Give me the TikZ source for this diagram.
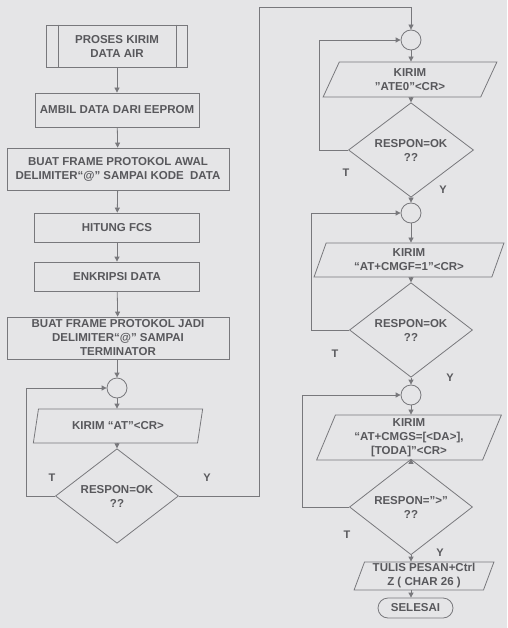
\documentclass[tikz,border=0pt]{standalone}
\usepackage{fontspec}
\setmainfont{Liberation Sans}
\usetikzlibrary{shapes.geometric,arrows.meta}
\definecolor{bg}{RGB}{229,229,231}
\definecolor{ln}{RGB}{120,120,124}
\definecolor{tx}{RGB}{88,88,92}
\begin{document}
\begin{tikzpicture}[x=1pt,y=-1pt,
  base/.style={draw=ln, line width=0.8pt, text=tx, font=\fontsize{11.5}{14}\selectfont\bfseries, align=center, inner sep=0pt},
  box/.style 2 args={base, rectangle, minimum width=#1, minimum height=#2},
  io/.style 2 args={base, trapezium, trapezium left angle=70, trapezium right angle=110, trapezium stretches=true, minimum width=#1, minimum height=#2},
  dec/.style 2 args={base, diamond, minimum width=#1, minimum height=#2},
  conn/.style={draw=ln, line width=0.8pt, circle, minimum size=20pt, inner sep=0pt},
  term/.style 2 args={base, rectangle, rounded corners=10pt, minimum width=#1, minimum height=#2},
  lbl/.style={text=tx, font=\fontsize{11}{13}\selectfont\bfseries, inner sep=0pt},
  arr/.style={draw=ln, line width=0.8pt, -{Triangle[length=5pt,width=5pt]}},
  ln/.style={draw=ln, line width=0.8pt}]
\fill[bg] (0,0) rectangle (507,628);
\useasboundingbox (0,0) rectangle (507,628);
% left column
\node[box={141pt}{42pt}] (proses) at (117,46) {PROSES KIRIM\\DATA AIR};
\draw[ln] ([xshift=12pt]proses.north west) -- ([xshift=12pt]proses.south west);
\draw[ln] ([xshift=-12pt]proses.north east) -- ([xshift=-12pt]proses.south east);
\node[box={164pt}{34pt}] (ambil) at (117,110) {AMBIL DATA DARI EEPROM};
\node[box={222pt}{42pt}] (awal) at (118,169) {BUAT FRAME PROTOKOL AWAL\\DELIMITER“@” SAMPAI KODE\ \ DATA};
\node[box={165pt}{29pt}] (hitung) at (117,227.5) {HITUNG FCS};
\node[box={165pt}{29pt}] (enkripsi) at (117,276.5) {ENKRIPSI DATA};
\node[box={222pt}{42pt}] (jadi) at (118,338) {BUAT FRAME PROTOKOL JADI\\DELIMITER“@” SAMPAI\\TERMINATOR};
\node[conn] (c1) at (117,388) {};
\node[io={170pt}{34pt}] (at) at (118,426) {KIRIM “AT”<CR>};
\node[dec={123pt}{73pt}] (d1) at (117,496) {RESPON=OK\\??};
% right column
\node[conn] (c2) at (411,40) {};
\node[io={174pt}{35pt}] (ate0) at (410,79.5) {KIRIM\\"ATE0"<CR>};
\node[dec={125pt}{72pt}] (d2) at (411,150) {RESPON=OK\\??};
\node[conn] (c3) at (411,213) {};
\node[io={190pt}{34pt}] (cmgf) at (409,260) {KIRIM\\“AT+CMGF=1”<CR>};
\node[dec={123pt}{70pt}] (d3) at (411,330) {RESPON=OK\\??};
\node[conn] (c4) at (411,395) {};
\node[io={185pt}{45pt}] (cmgs) at (409,437.5) {KIRIM\\“AT+CMGS={[}<DA>{]},\\{}{[}TODA{]}”<CR>};
\node[dec={123pt}{73pt}] (d4) at (411,507) {RESPON=”>”\\??};
\node[io={140pt}{28pt}] (tulis) at (424,576) {TULIS PESAN+Ctrl\\Z ( CHAR 26 )};
\node[term={75pt}{20pt}] (selesai) at (415.5,608) {SELESAI};
% labels
\node[lbl] (t1) at (52,478) {T};
\node[lbl] (y1) at (207,478) {Y};
\node[lbl] (t2) at (346,173) {T};
\node[lbl] (y2) at (443,190) {Y};
\node[lbl] (t3) at (335,354) {T};
\node[lbl] (y3) at (450,378) {Y};
\node[lbl] (t4) at (347,535) {T};
\node[lbl] (y4) at (440,553) {Y};
% left connectors
\draw[arr] (proses) -- (ambil);
\draw[arr] (ambil) -- (awal);
\draw[arr] (awal) -- (hitung);
\draw[arr] (hitung) -- (enkripsi);
\draw[arr] (enkripsi) -- (jadi);
\draw[arr] (jadi.south -| c1) -- (c1);
\draw[arr] (c1) -- (c1 |- at.north);
\draw[arr] (at.south -| d1) -- (d1);
\draw[arr] (d1.west) -- ++(-29,0) |- (c1.west);
\coordinate (r1) at (259,7);
\draw[arr] (d1.east) -| (r1) -| (c2.north);
% right connectors
\draw[arr] (c2) -- (c2 |- ate0.north);
\draw[arr] (ate0.south -| d2) -- (d2);
\draw[arr] (d2.west) -- ++(-29,0) |- (c2.west);
\draw[arr] (d2) -- (c3);
\draw[arr] (c3) -- (c3 |- cmgf.north);
\draw[arr] (cmgf.south -| d3) -- (d3);
\draw[arr] (d3.west) -- ++(-38,0) |- (c3.west);
\draw[arr] (d3) -- (c4);
\draw[arr] (c4) -- (c4 |- cmgs.north);
\draw[arr] (cmgs.south -| d4) -- (d4);
\draw[arr] (d4.west) -- ++(-46.5,0) |- (c4.west);
\draw[arr] (d4.south) -- (d4.south |- tulis.north);
\draw[arr] (tulis.south -| d4) -- (d4 |- selesai.north);
\end{tikzpicture}
\end{document}
